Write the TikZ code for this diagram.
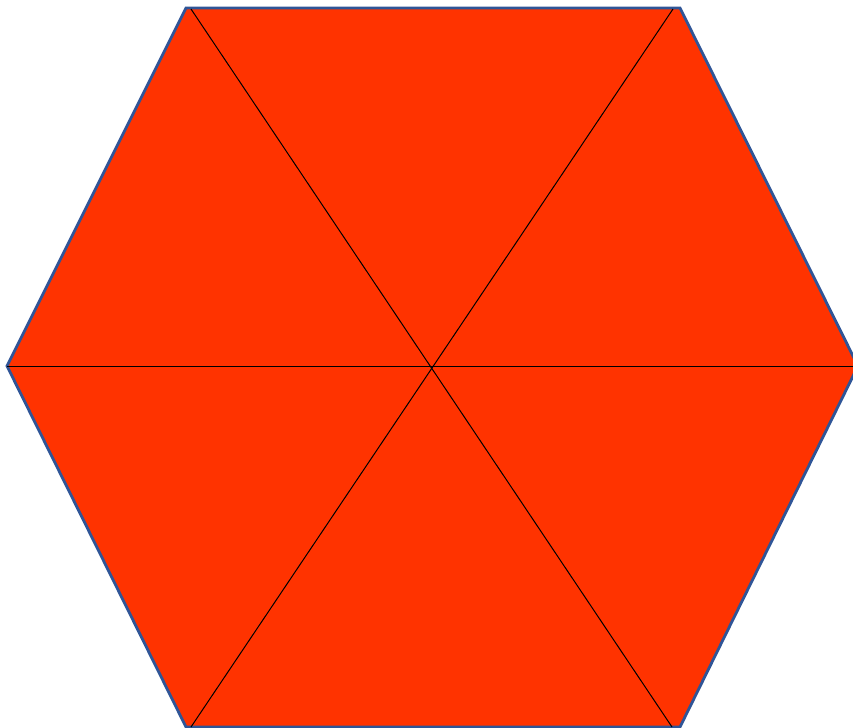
\documentclass[tikz,border=0pt]{standalone}
\usepackage{tikz}
\usetikzlibrary{calc}
\definecolor{hexfill}{HTML}{FF3300}
\definecolor{hexedge}{HTML}{2F5597}

\begin{document}
\begin{tikzpicture}[x=0.5pt,y=-0.5pt]
  \useasboundingbox (0,0) rectangle (853,728);
  \clip (0,0) rectangle (853,728);
  % corners of the hexagon
  \coordinate (tl) at (186,8);
  \coordinate (tr) at (680,8);
  \coordinate (r) at (858,366);
  \coordinate (br) at (680,727);
  \coordinate (bl) at (186,727);
  \coordinate (l) at (7,366);
  \filldraw[fill=hexfill,draw=hexedge,line width=1.4pt,line join=miter]
    (tl) -- (tr) -- (r) -- (br) -- (bl) -- (l) -- cycle;
  % spokes
  \draw[black,line width=0.5pt] (191,9) -- (672,727);
  \draw[black,line width=0.5pt] (673,9) -- (191,727);
  \draw[black,line width=0.5pt] (l) -- (r);
\end{tikzpicture}
\end{document}
